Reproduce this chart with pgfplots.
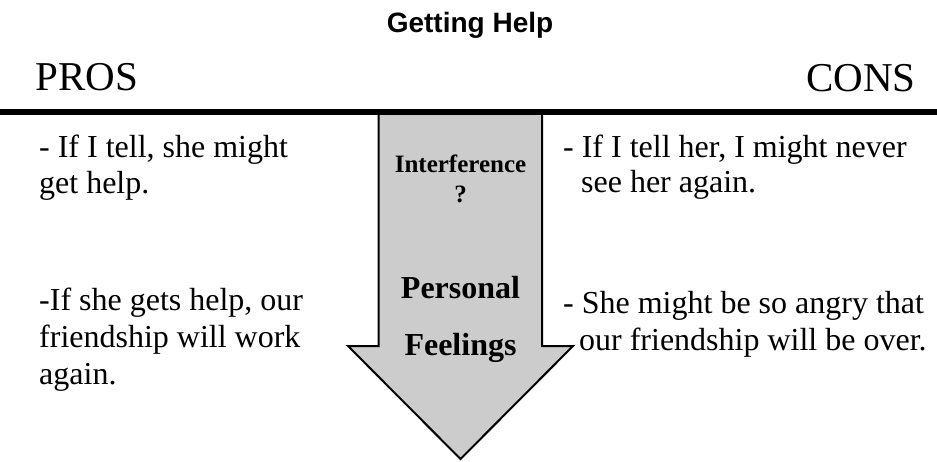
\documentclass[border=0pt]{standalone}
\usepackage{pgfplots}
\pgfplotsset{compat=1.18}
\usepackage{fontspec}
\setmainfont{Liberation Serif}
\newfontfamily\arial{Liberation Sans}
\definecolor{arrowgray}{RGB}{204,204,204}
\begin{document}
\begin{tikzpicture}
\begin{axis}[name=ax, at={(0,0)}, anchor=south west, hide axis, scale only axis,
  width=937pt, height=461pt, xmin=0, xmax=937, ymin=0, ymax=461, y dir=reverse, clip=false]
% arrow
\addplot[draw=black, line width=2pt, fill=arrowgray, line join=miter] coordinates {
 (378.5,112) (542,112) (542,346) (573,346) (460.5,459) (348,346) (378.5,346) (378.5,112)} -- cycle;
% rule
\addplot[black, line width=5.5pt] coordinates {(0,112) (937,112)};
% title
\node[anchor=base, font=\arial\bfseries\fontsize{28}{30}\selectfont] at (axis cs:470,32) {Getting Help};
\node[anchor=base west, font=\fontsize{41}{44}\selectfont] at (axis cs:32,90) {PROS};
\node[anchor=base east, font=\fontsize{41}{44}\selectfont] at (axis cs:919,91) {CONS};
% text blocks
\begin{scope}[every node/.style={anchor=base west, inner sep=0pt, font=\fontsize{32}{36}\selectfont}]
\node at (axis cs:39,157) {- If I tell, she might};
\node at (axis cs:39,193) {get help.};
\node at (axis cs:39,310) {-If she gets help, our};
\node at (axis cs:39,347) {friendship will work};
\node at (axis cs:39,384) {again.};
\node at (axis cs:563,157) {- If I tell her, I might never};
\node at (axis cs:581,192) {see her again.};
\node at (axis cs:563,313) {- She might be so angry that};
\node at (axis cs:579,350) {our friendship will be over.};
\end{scope}
% center
\node[anchor=base, inner sep=0pt, font=\bfseries\fontsize{25}{28}\selectfont] at (axis cs:460.5,172) {Interference};
\node[anchor=base, inner sep=0pt, font=\bfseries\fontsize{25}{28}\selectfont] at (axis cs:460.5,202) {?};
\node[anchor=base, inner sep=0pt, font=\bfseries\fontsize{32}{36}\selectfont] at (axis cs:460.5,298) {Personal};
\node[anchor=base, inner sep=0pt, font=\bfseries\fontsize{32}{36}\selectfont] at (axis cs:460.5,355) {Feelings};
\end{axis}
\pgfresetboundingbox
\path[use as bounding box] (ax.south west) rectangle (ax.north east);
\end{tikzpicture}
\end{document}
